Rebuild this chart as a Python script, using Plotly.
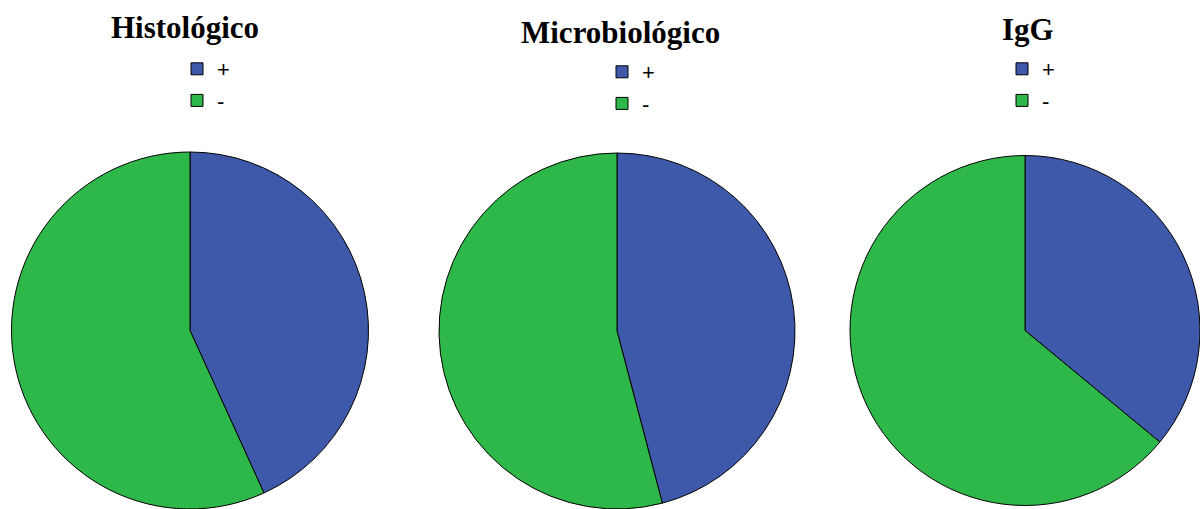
import plotly.graph_objects as go

# Data
labels = ["+", "-"]
titles = ["Histológico", "Microbiológico", "IgG"]
hist_values = [43.2, 56.8]
micro_values = [45.9, 54.1]
igg_values = [36.0, 64.0]
colors = ["#3e58aa", "#2eb84a"]

W, H = 1200, 509

def fx(px):
    return px / W

def fy(py):
    return 1 - py / H

series = [hist_values, micro_values, igg_values]
domains = [
    dict(x=[fx(10), fx(370)], y=[0, fy(152)]),
    dict(x=[fx(437), fx(797)], y=[0, fy(153)]),
    dict(x=[fx(850), 1.0], y=[0, fy(152)]),
]
legend_ids = ["legend", "legend2", "legend3"]

fig = go.Figure()
for i, (vals, dom, lg) in enumerate(zip(series, domains, legend_ids)):
    # trailing spaces keep each pie's legend entries distinct (invisible in SVG)
    lbls = [l + " " * i for l in labels]
    fig.add_trace(go.Pie(
        labels=lbls, values=vals, sort=False, direction="clockwise",
        rotation=0, domain=dom, textinfo="none",
        marker=dict(colors=colors, line=dict(color="black", width=1)),
        legend=lg, showlegend=True,
    ))

title_pos = [(185, 27), (620, 32), (1028, 30)]
for t, (x, y) in zip(titles, title_pos):
    fig.add_annotation(text=f"<b>{t}</b>", x=fx(x), y=fy(y), xref="paper", yref="paper",
                       showarrow=False, xanchor="center", yanchor="middle",
                       font=dict(family="Liberation Serif", size=31, color="black"))

leg_common = dict(font=dict(family="Liberation Sans", size=22, color="black"),
                  bgcolor="rgba(0,0,0,0)", xanchor="left", yanchor="top",
                  itemclick=False, itemdoubleclick=False)
legend_pos = [(177, 48), (602, 51), (1002, 48)]
lay = {}
for lg, (x, y) in zip(legend_ids, legend_pos):
    lay[lg] = dict(x=fx(x), y=fy(y), **leg_common)

fig.update_layout(
    width=W, height=H, margin=dict(l=0, r=0, t=0, b=0),
    paper_bgcolor="white", plot_bgcolor="white",
    **lay,
)

fig.write_html("out.html")
